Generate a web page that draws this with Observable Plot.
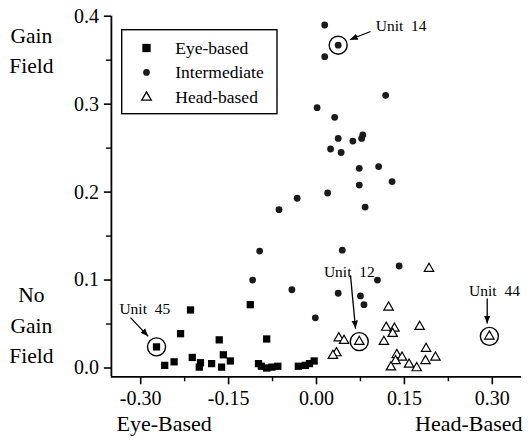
<!DOCTYPE html>
<html><head><meta charset="utf-8">
<script src="https://cdn.jsdelivr.net/npm/d3@7"></script>
<script src="https://cdn.jsdelivr.net/npm/@observablehq/plot@0.6"></script>
<style>
html,body{margin:0;padding:0;background:#fff;}
#wrap{position:relative;width:528px;height:448px;font-family:"Liberation Serif","Times New Roman",serif;}
#legend{position:absolute;left:120.7px;top:29.3px;}
</style></head><body><div id="wrap"></div>
<script>
// ---- data ----
const eyeX = [-0.273,-0.259,-0.243,-0.232,-0.215,-0.212,-0.198,-0.200,-0.179,-0.166,-0.162,-0.159,-0.147,-0.113,-0.085,-0.099,-0.094,-0.085,-0.076,-0.066,-0.031,-0.019,-0.012,-0.004];
const eyeY = [0.024,0.003,0.007,0.039,0.066,0.012,0.006,0.001,0.005,0.032,0.001,0.015,0.008,0.072,0.033,0.005,0.002,0.000,0.001,0.002,0.002,0.003,0.005,0.008];
const midX = [0.014,0.037,0.014,0.118,0.001,0.031,0.037,0.062,0.079,0.077,0.024,0.042,0.073,0.106,0.129,0.073,0.019,-0.033,-0.064,0.083,-0.097,0.044,-0.109,0.141,0.104,-0.042,0.037,0.075,0.081,-0.002];
const midY = [0.390,0.367,0.354,0.310,0.296,0.285,0.261,0.258,0.265,0.261,0.249,0.245,0.227,0.229,0.212,0.208,0.199,0.193,0.180,0.183,0.133,0.134,0.100,0.116,0.100,0.089,0.085,0.082,0.072,0.057];
const headX = [0.192,0.123,0.119,0.133,0.130,0.176,0.115,0.038,0.047,0.073,0.034,0.028,0.187,0.203,0.186,0.137,0.146,0.135,0.158,0.127,0.171,0.295];
const headY = [0.113,0.069,0.046,0.045,0.039,0.047,0.030,0.034,0.031,0.030,0.017,0.014,0.022,0.012,0.008,0.015,0.012,0.008,0.004,0.001,0.000,0.036];

const legendLabels = ["Eye-based","Intermediate","Head-based"];
const xTicks = [-0.30,-0.15,0.00,0.15,0.30];
const xMinorTicks = [-0.225,-0.075,0.075,0.225];
const yTicks = [0.0,0.1,0.2,0.3,0.4];
const yMinorTicks = [0.05,0.15,0.25,0.35];

// highlighted units
const unitNames = ["Unit\u00a0\u00a014","Unit\u00a0\u00a045","Unit\u00a0\u00a012","Unit\u00a0\u00a044"];
const unitX = [0.037,-0.273,0.073,0.295];
const unitY = [0.367,0.024,0.030,0.036];
const unitLabelX = [0.1445,-0.293,0.056,0.3038];
const unitLabelY = [0.383,0.0618,0.103,0.0815];
const arrowX1 = [0.0922,-0.3174,0.058,0.2913];
const arrowY1 = [0.3826,0.0573,0.1053,0.0789];
const arrowX2 = [0.0568,-0.2872,0.0666,0.2913];
const arrowY2 = [0.3732,0.036,0.0448,0.0505];

const sideLabels = ["Gain\nField","No\nGain\nField"];
const sideLabelY = [0.3349,0.0053];
const bottomLabels = ["Eye-Based","Head-Based"];
const bottomLabelX = [-0.26,0.26];

// ---- tables ----
const pts = (xs, ys) => xs.map((x,i)=>({x, y: ys[i]}));
const eye = pts(eyeX, eyeY), mid = pts(midX, midY), head = pts(headX, headY);
const units = unitNames.map((n,i)=>({n, x:unitX[i], y:unitY[i], lx:unitLabelX[i], ly:unitLabelY[i], x1:arrowX1[i], y1:arrowY1[i], x2:arrowX2[i], y2:arrowY2[i]}));
const sides = sideLabels.map((t,i)=>({t, y: sideLabelY[i]}));
const bottoms = bottomLabels.map((t,i)=>({t, x: bottomLabelX[i]}));

const serif = '"Liberation Serif","Times New Roman",serif';

// filled arrowhead marker
function filledHead(color, context) {
  const m = d3.create("svg:marker")
    .attr("viewBox", "-8 -3.5 8.5 7")
    .attr("markerUnits", "userSpaceOnUse")
    .attr("markerWidth", 8.5).attr("markerHeight", 7)
    .attr("refX", 0).attr("refY", 0)
    .attr("orient", "auto")
    .attr("fill", color).attr("stroke", "none");
  m.append("path").attr("d", "M0,0L-8,-3.2L-8,3.2Z");
  return m.node();
}

function build(useMarker) {
  const arrowMark = useMarker
    ? Plot.link(units, {x1: "x1", y1: "y1", x2: "x2", y2: "y2", stroke: "#000", strokeWidth: 1.3, markerEnd: filledHead})
    : Plot.arrow(units, {x1: "x1", y1: "y1", x2: "x2", y2: "y2", stroke: "#000", strokeWidth: 1.4, headLength: 7, headAngle: 45});
  return Plot.plot({
    width: 528, height: 448,
    marginLeft: 110.9, marginRight: 6.9, marginTop: 15.7, marginBottom: 71.7,
    style: {fontFamily: serif, background: "#fff", color: "#000", overflow: "visible"},
    x: {domain: [-0.35, 0.35]},
    y: {domain: [-0.01, 0.4]},
    marks: [
      Plot.axisX({ticks: xTicks, tickSize: 8, tickPadding: 6, tickFormat: d => d.toFixed(2), fontSize: 20, strokeWidth: 1.6, label: null, style: {letterSpacing: "1.5px"}}),
      Plot.axisX({ticks: xMinorTicks, tickSize: 5, text: null, strokeWidth: 1.4, label: null}),
      Plot.axisY({ticks: yTicks, tickSize: 7, tickPadding: 5.5, tickFormat: d => d.toFixed(1), fontSize: 20, strokeWidth: 1.6, label: null, style: {letterSpacing: "1.5px"}}),
      Plot.axisY({ticks: yMinorTicks, tickSize: 5, text: null, strokeWidth: 1.4, label: null}),
      Plot.ruleX([-0.35], {strokeWidth: 1.8}),
      Plot.ruleY([-0.01], {strokeWidth: 1.8}),
      Plot.dot(eye, {x: "x", y: "y", symbol: "square", r: 4.1, fill: "#000", stroke: "none"}),
      Plot.dot(mid, {x: "x", y: "y", symbol: "circle", r: 3.4, fill: "#1a1a1a", stroke: "none"}),
      Plot.dot(head, {x: "x", y: "y", symbol: "triangle", r: 3.5, fill: "#fff", stroke: "#000", strokeWidth: 1.2}),
      Plot.dot(units, {x: "x", y: "y", r: 9, fill: "none", stroke: "#000", strokeWidth: 1.4}),
      arrowMark,
      Plot.text(units, {x: "lx", y: "ly", text: "n", lineAnchor: "bottom", fontSize: 15.5, fill: "#000"}),
      Plot.text(sides, {y: "y", text: "t", frameAnchor: "left", dx: -80, textAnchor: "middle", lineAnchor: "bottom", lineHeight: 1.42, fontSize: 21.5, fill: "#000"}),
      Plot.text(bottoms, {x: "x", text: "t", frameAnchor: "bottom", dy: 53.7, lineAnchor: "bottom", fontSize: 22, fill: "#000"})
    ]
  });
}
let chart;
try { chart = build(true); } catch (e) { chart = build(false); }
const wrap = document.getElementById("wrap");
wrap.appendChild(chart);

// ---- legend (inside the plot area, as in the reference) ----
const lw = 155.3, lh = 84;
const leg = d3.select(wrap).append("svg").attr("id","legend").attr("width", lw+2).attr("height", lh+2);
leg.append("rect").attr("x",0.7).attr("y",0.7).attr("width",lw).attr("height",lh).attr("fill","#fff").attr("stroke","#000").attr("stroke-width",1.4);
const rows = [19, 43.4, 68.4];
const symDefs = [
  {type: d3.symbolSquare, size: 69, fill: "#000", stroke: "none"},
  {type: d3.symbolCircle, size: 35, fill: "#1a1a1a", stroke: "none"},
  {type: d3.symbolTriangle, size: 40, fill: "#fff", stroke: "#000"}
];
legendLabels.forEach((lab, i) => {
  const s = symDefs[i];
  leg.append("path").attr("transform", `translate(25.5,${rows[i]})`)
    .attr("d", d3.symbol(s.type, s.size)()).attr("fill", s.fill).attr("stroke", s.stroke).attr("stroke-width", 1.3);
  leg.append("text").attr("x", 54.3).attr("y", rows[i] + 5.8).attr("font-size", 17.5)
    .attr("font-family", serif).attr("fill", "#000").text(lab);
});
</script>
</body></html>
